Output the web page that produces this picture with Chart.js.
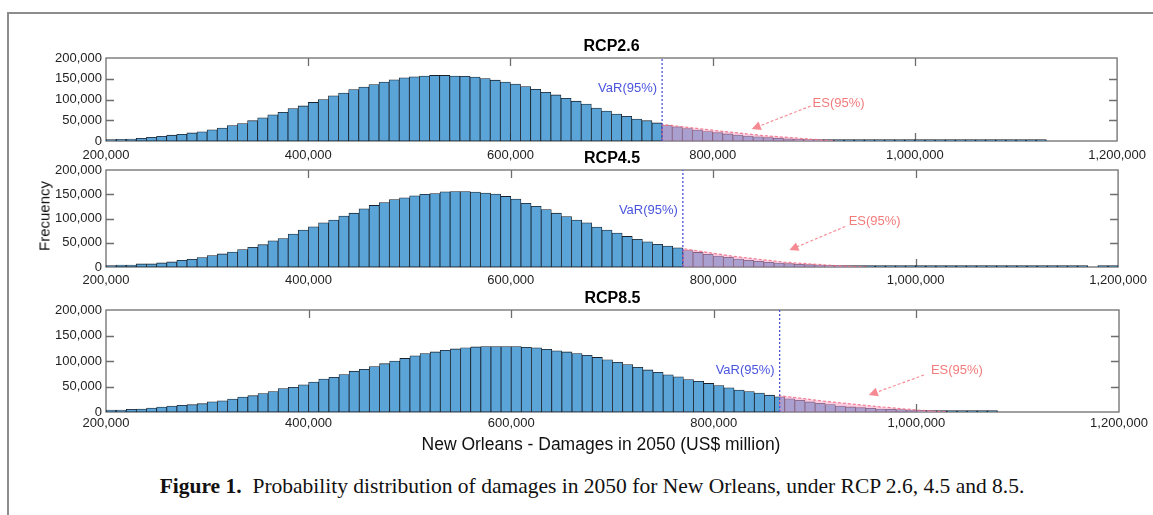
<!DOCTYPE html>
<html><head><meta charset="utf-8">
<script src="https://cdn.jsdelivr.net/npm/chart.js@4.4.1/dist/chart.umd.min.js"></script>
<style>
html,body{margin:0;padding:0;background:#fff;width:1153px;height:515px;overflow:hidden;position:relative;font-family:'Liberation Sans',Arial,sans-serif;}
.frame{position:absolute;left:7px;top:12px;width:1160px;height:520px;border-left:2px solid #8c8c8c;border-top:2px solid #8c8c8c;}
canvas{position:absolute;left:0;}
#ylab{position:absolute;left:44px;top:216px;transform:translate(-50%,-50%) rotate(-90deg);font-size:15px;color:#111;white-space:nowrap;}
#xlab{position:absolute;left:601px;top:444px;transform:translate(-50%,-50%);font-size:17.5px;color:#111;white-space:nowrap;}
#cap{position:absolute;left:592px;top:486px;transform:translate(-50%,-50%);font-family:'Liberation Serif','Times New Roman',serif;font-size:21.5px;color:#111;white-space:nowrap;}
</style></head>
<body>
<div class="frame"></div>
<canvas id="c1"></canvas>
<canvas id="c2"></canvas>
<canvas id="c3"></canvas>
<div id="ylab">Frecuency</div>
<div id="xlab">New Orleans - Damages in 2050 (US$ million)</div>
<div id="cap"><b>Figure 1.</b>&nbsp; Probability distribution of damages in 2050 for New Orleans, under RCP 2.6, 4.5 and 8.5.</div>
<script>
// bin centres (10,000-wide bins from 200,000 to 1,200,000)
const binCenters = [
 205000,215000,225000,235000,245000,255000,265000,275000,285000,295000,
 305000,315000,325000,335000,345000,355000,365000,375000,385000,395000,
 405000,415000,425000,435000,445000,455000,465000,475000,485000,495000,
 505000,515000,525000,535000,545000,555000,565000,575000,585000,595000,
 605000,615000,625000,635000,645000,655000,665000,675000,685000,695000,
 705000,715000,725000,735000,745000,755000,765000,775000,785000,795000,
 805000,815000,825000,835000,845000,855000,865000,875000,885000,895000,
 905000,915000,925000,935000,945000,955000,965000,975000,985000,995000,
 1005000,1015000,1025000,1035000,1045000,1055000,1065000,1075000,1085000,1095000,
 1105000,1115000,1125000,1135000,1145000,1155000,1165000,1175000,1185000,1195000];

const freqRCP26 = [
 2500,4000,4500,6500,9000,11500,14000,16000,19500,22000,
 27000,31000,37000,42000,49000,56000,63000,69000,78000,84500,
 93000,100000,109000,115500,124000,130000,136000,142000,147500,152300,
 154500,156600,158000,158000,156600,156000,154000,150500,146500,142000,
 137000,131000,124500,117500,111000,103000,96000,89000,79500,72000,
 65000,59300,53000,49000,43500,37000,34000,30000,26500,23000,
 20000,17000,14500,12000,10000,8000,6500,5000,4000,3000,
 2300,1700,1300,1000,800,700,600,500,450,400,
 350,300,300,250,250,200,200,200,150,150,
 150,100,100,null,null,null,null,null,null,null];

const freqRCP45 = [
 2800,4200,4200,6300,6300,8400,10500,14000,16000,19600,
 23800,27000,30800,36000,40600,46000,54000,58700,68000,76000,
 83000,91000,97000,105000,111000,120000,127000,133000,139000,142500,
 146600,150000,151500,155000,155500,155500,154500,152500,150500,145500,
 140000,131500,125000,118500,111000,104000,97000,91000,82500,76000,
 70000,63000,57000,52000,46600,43000,39700,34000,30000,26000,
 22600,20000,16400,13700,11600,9600,8200,6800,5500,4800,
 4000,3400,2700,2000,1400,1000,800,600,500,450,
 400,350,300,300,250,250,200,200,200,150,
 150,150,150,100,100,100,100,null,100,100];

const freqRCP85 = [
 3900,3900,5200,5900,7800,9800,11800,13000,14400,16300,
 20000,22000,25500,29400,32000,36000,40000,45800,48400,53300,
 58800,64600,68200,73500,80000,83600,89000,94700,99800,105000,
 110000,114500,117800,121000,123700,126000,127600,128300,128300,128300,
 128300,127000,125700,123000,120000,117800,114500,111000,107000,102500,
 97500,93000,87500,82500,78000,73000,69000,63500,60000,56000,
 52000,47500,43000,40000,37000,33000,29600,25700,23000,19700,
 17000,14500,11800,9900,8500,7200,5900,5300,4600,4000,
 3300,2600,2000,1800,1300,1000,800,600,null,null,
 null,null,null,null,null,null,null,null,null,null];

// Value-at-Risk (95%) thresholds
const varRCP26 = 750000, varRCP45 = 770000, varRCP85 = 865000;

// Expected-shortfall tail envelope (x, y)
const tailX26 = [750000,750000,800000,850000,900000,922000];
const tailY26 = [0,40000,26000,13000,4000,0];
const tailX45 = [770000,770000,820000,870000,920000,952000];
const tailY45 = [0,38000,22000,10000,3000,0];
const tailX85 = [865000,865000,910000,960000,1000000,1030000];
const tailY85 = [0,32000,21000,11000,4000,0];

const xTickValues = [200000,400000,600000,800000,1000000,1200000];
const yTickValues = [0,50000,100000,150000,200000];

const FF = "'Liberation Sans', Arial, sans-serif";
const fmt = v => Number(v).toLocaleString('en-US');

function makePanel(id, plotTop, plotH, title, values, varX, tailX, tailY, ann, labelPad){
  const cv = document.getElementById(id);
  cv.width = 1153; cv.height = 30 + plotH + 25;
  cv.style.top = (plotTop - 30) + 'px';
  const tailPts = tailX.map((x,i)=>({x:x, y:tailY[i]}));
  const deco = {
    id:'deco'+id,
    beforeDatasetsDraw(chart){
      const {ctx, chartArea:ca, scales:{x,y}} = chart;
      ctx.save();
      ctx.strokeStyle = '#6e6e6e'; ctx.lineWidth = 1.3;
      ctx.strokeRect(ca.left, ca.top, ca.right-ca.left, ca.bottom-ca.top);
      ctx.beginPath();
      x.ticks.forEach(t=>{
        if (t.value<=x.min || t.value>=x.max) return;
        const px = Math.round(x.getPixelForValue(t.value))+0.5;
        ctx.moveTo(px, ca.top); ctx.lineTo(px, ca.top+8);
        ctx.moveTo(px, ca.bottom); ctx.lineTo(px, ca.bottom-8);
      });
      y.ticks.forEach(t=>{
        if (t.value<=y.min || t.value>=y.max) return;
        const py = Math.round(y.getPixelForValue(t.value))+0.5;
        ctx.moveTo(ca.left, py); ctx.lineTo(ca.left+8, py);
        ctx.moveTo(ca.right, py); ctx.lineTo(ca.right-8, py);
      });
      ctx.stroke();
      ctx.restore();
    },
    afterDatasetsDraw(chart){
      const {ctx, chartArea:ca, scales:{x,y}} = chart;
      ctx.save();
      // panel title, centred over the plot area
      ctx.font = 'bold 16px ' + FF; ctx.fillStyle = '#000';
      ctx.textAlign = 'center'; ctx.textBaseline = 'middle';
      ctx.fillText(title, (ca.left + ca.right) / 2, ca.top - 11);
      ctx.font = '13px ' + FF;
      ctx.fillStyle = '#4a55dd'; ctx.textAlign = 'right';
      ctx.fillText('VaR(95%)', x.getPixelForValue(varX) - 5, y.getPixelForValue(ann.varY));
      ctx.fillStyle = '#f27c7c'; ctx.textAlign = 'center';
      ctx.fillText('ES(95%)', x.getPixelForValue(ann.esX), y.getPixelForValue(ann.esY));
      const x1 = x.getPixelForValue(ann.a1x), y1 = y.getPixelForValue(ann.a1y);
      const x2 = x.getPixelForValue(ann.a2x), y2 = y.getPixelForValue(ann.a2y);
      const ang = Math.atan2(y2-y1, x2-x1), L = 9, W = 4.5;
      ctx.strokeStyle = 'rgba(244,125,135,0.85)'; ctx.lineWidth = 1.2; ctx.setLineDash([3,2]);
      ctx.beginPath(); ctx.moveTo(x1,y1);
      ctx.lineTo(x2 - (L-1)*Math.cos(ang), y2 - (L-1)*Math.sin(ang)); ctx.stroke();
      ctx.setLineDash([]);
      ctx.fillStyle = 'rgba(244,125,135,0.9)';
      ctx.beginPath(); ctx.moveTo(x2,y2);
      ctx.lineTo(x2 - L*Math.cos(ang) + W*Math.sin(ang), y2 - L*Math.sin(ang) - W*Math.cos(ang));
      ctx.lineTo(x2 - L*Math.cos(ang) - W*Math.sin(ang), y2 - L*Math.sin(ang) + W*Math.cos(ang));
      ctx.closePath(); ctx.fill();
      ctx.restore();
    }
  };
  return new Chart(cv, {
    data: {
      labels: binCenters,
      datasets: [
        {type:'bar', data: values, backgroundColor:'#5aa4d8', borderColor:'#18212b', borderWidth:0.8,
         borderSkipped:false, barPercentage:1, categoryPercentage:1, minBarLength:1.5, order:3},
        {type:'line', data: tailPts, borderColor:'rgba(240,110,130,0.85)', borderDash:[3,2], borderWidth:1.2,
         backgroundColor:'rgba(250,155,200,0.5)', fill:'origin', pointRadius:0, tension:0, order:2},
        {type:'line', data:[{x:varX,y:0},{x:varX,y:200000}], borderColor:'#4b55d8', borderDash:[2,2],
         borderWidth:1.3, pointRadius:0, fill:false, order:1}
      ]
    },
    options: {
      responsive:false, animation:false, devicePixelRatio:1,
      layout:{padding:{left:0,right:34,top:30,bottom:0}},
      plugins:{
        legend:{display:false}, tooltip:{enabled:false}, title:{display:false}
      },
      scales:{
        x:{type:'linear', min:200000, max:1200000, offset:false,
           afterFit(a){ a.height = 25; },
           afterBuildTicks(a){ a.ticks = xTickValues.map(v=>({value:v})); },
           grid:{display:false, drawTicks:false}, border:{display:false},
           ticks:{autoSkip:false, maxRotation:0, padding:labelPad, color:'#222',
                  font:{family:FF, size:13}, callback:v=>fmt(v)}},
        y:{type:'linear', min:0, max:200000,
           afterFit(a){ a.width = 106; },
           afterBuildTicks(a){ a.ticks = yTickValues.map(v=>({value:v})); },
           grid:{display:false, drawTicks:false}, border:{display:false},
           ticks:{padding:4, color:'#222', font:{family:FF, size:13}, callback:v=>fmt(v)}}
      }
    },
    plugins:[deco]
  });
}

makePanel('c1', 58, 83, 'RCP2.6', freqRCP26, varRCP26, tailX26, tailY26,
  {varY:127700, esX:924600, esY:91600, a1x:897000, a1y:84300, a2x:838700, a2y:28900}, 7);
makePanel('c2', 170, 97, 'RCP4.5', freqRCP45, varRCP45, tailX45, tailY45,
  {varY:117500, esX:959500, esY:93800, a1x:930500, a1y:83500, a2x:875200, a2y:35000}, 6);
makePanel('c3', 310, 102, 'RCP8.5', freqRCP85, varRCP85, tailX85, tailY85,
  {varY:82400, esX:1040000, esY:82400, a1x:1007500, a1y:72500, a2x:953000, a2y:33300}, 4);
</script>
</body></html>
